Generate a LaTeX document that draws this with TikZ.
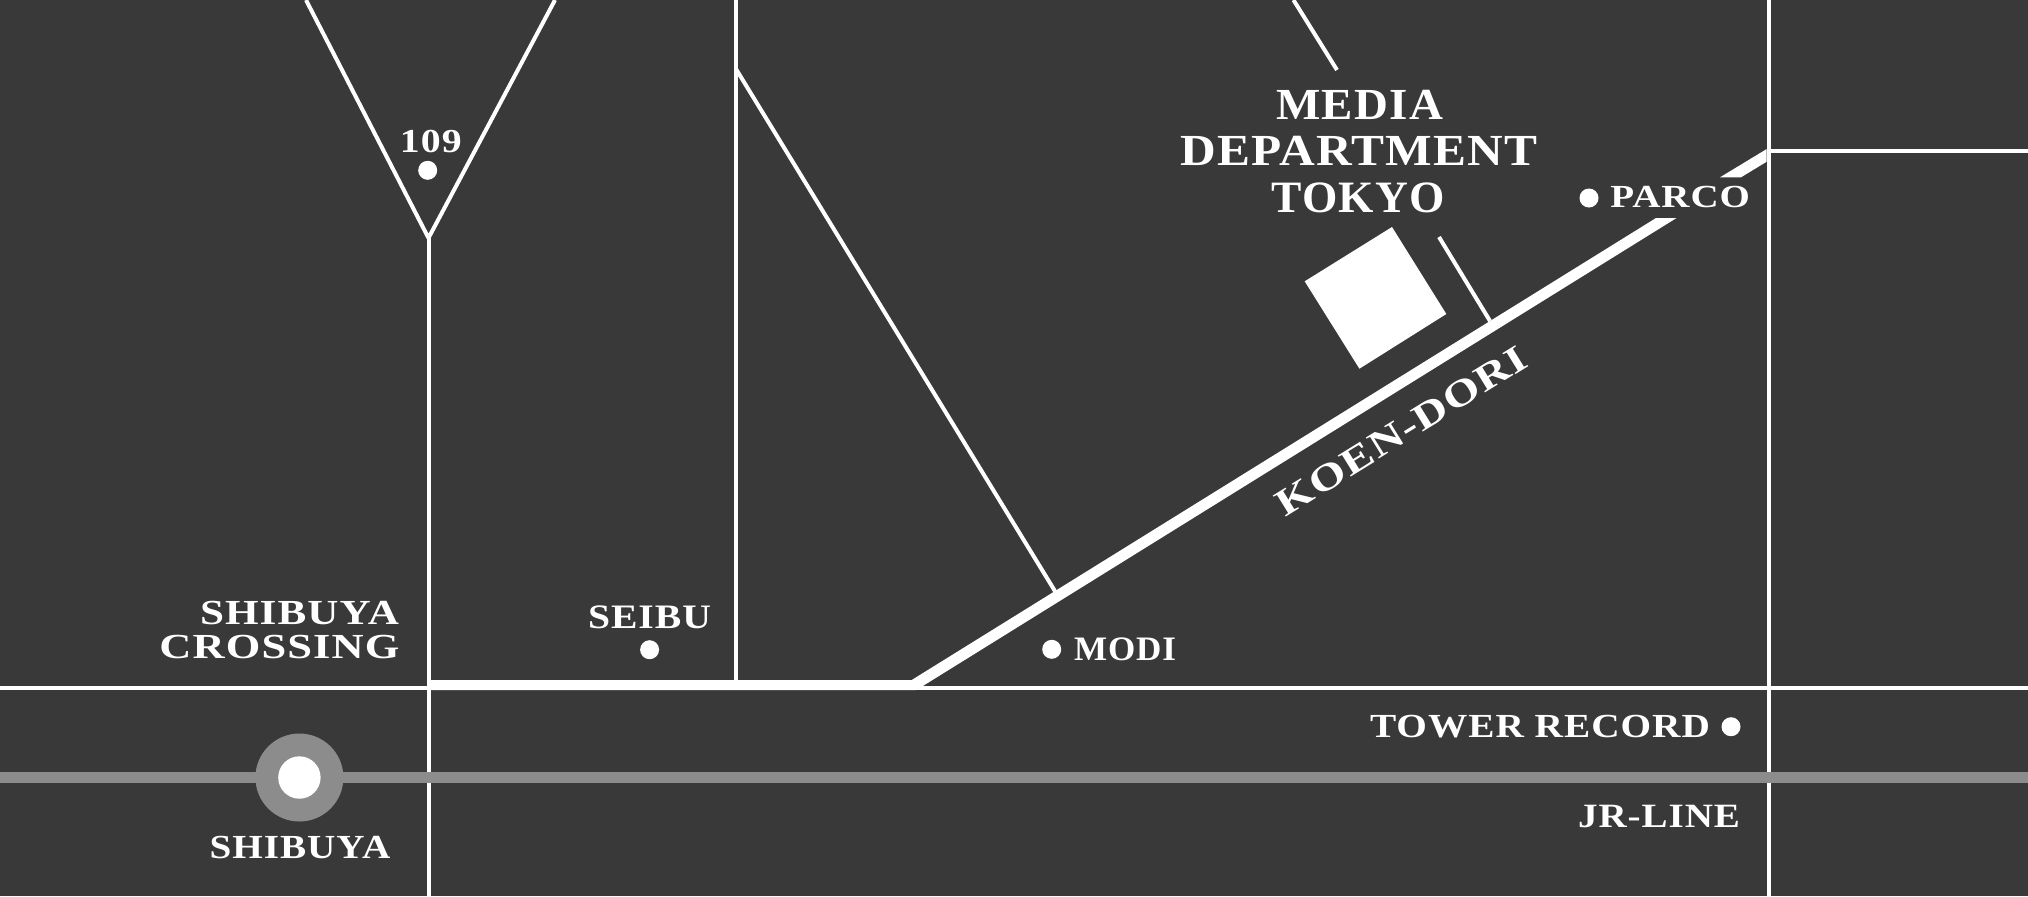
\documentclass[tikz,border=0pt]{standalone}
\usepackage{fontspec}
\usepackage{graphicx}
\setmainfont{Liberation Serif}[LetterSpace=2.5,BoldFont={Liberation Serif Bold}]
\newlength{\unitpx}
\setlength{\unitpx}{0.5pt}
\newcommand{\fitlabel}[3]{\resizebox{#1\unitpx}{#2\unitpx}{\bfseries #3}}
\definecolor{mapbg}{HTML}{393939}
\definecolor{railgray}{HTML}{8C8C8C}
\tikzset{
  road/.style={draw=white,line width=2pt},
  roadfill/.style={fill=white,draw=none},
  spot/.style={circle,fill=white,draw=none,minimum size=9.5pt,inner sep=0pt},
  maplabel/.style={text=white,inner sep=0pt,outer sep=0pt,anchor=center}
}
\begin{document}
\begin{tikzpicture}[x=0.5pt,y=-0.5pt]
\useasboundingbox (0,0) rectangle (2028,896);
\fill[mapbg] (0,0) rectangle (2028,896);
% road end points
\coordinate (vl) at (306,0);
\coordinate (vr) at (555,0);
\coordinate (apex) at (428.5,238);
\coordinate (xbot) at (428.5,896);
\coordinate (w) at (0,688);
\coordinate (e) at (2028,688);
\coordinate (v2t) at (736,0);
\coordinate (v2b) at (736,688);
\coordinate (v3t) at (1768.7,0);
\coordinate (v3b) at (1768.7,896);
\coordinate (ne) at (2028,150.7);
\coordinate (ne0) at (1768.7,150.7);
\coordinate (da) at (736,69);
\coordinate (db) at (1055.5,592);
\coordinate (ta) at (1293.5,0);
\coordinate (tb) at (1337,70);
\coordinate (sa) at (1439,237);
\coordinate (sb) at (1490,321);
\draw[road] (vl) -- (apex) -- (vr);
\draw[road] (apex) -- (xbot);
\draw[road] (w) -- (e);
\draw[road] (v2t) -- (v2b);
\draw[road] (v3t) -- (v3b);
\draw[road] (ne0) -- (ne);
\draw[road] (da) -- (db);
\draw[road] (ta) -- (tb);
\draw[road] (sa) -- (sb);
% Koen-dori
\fill[roadfill] (430,680) -- (911.7,680) -- (1656,218) -- (1676.5,218) -- (921.7,686.7) -- (916,690) -- (430,690) -- cycle;
\fill[roadfill] (1720,177.3) -- (1766.7,149) -- (1766.7,161.7) -- (1741,177.3) -- cycle;
% building
\fill[roadfill] (1392,227) -- (1446.3,314) -- (1359.4,368.7) -- (1304.7,281.3) -- cycle;
% rail
\draw[railgray,line width=5.7pt] (0,777.7) -- (2028,777.7);
\fill[railgray] (299.4,777.5) circle (44);
\fill[white] (299.4,777.5) circle (21.2);
% spots
\node[spot] (d109) at (427.7,170.3) {};
\node[spot] (dseibu) at (649.6,649.7) {};
\node[spot] (dmodi) at (1051.7,649.3) {};
\node[spot] (dparco) at (1589,198) {};
\node[spot] (dtower) at (1731,726.7) {};
% labels
\node[maplabel] (l1) at (1359.7,104.6) {\fitlabel{166.5}{29.3}{MEDIA}};
\node[maplabel] (l2) at (1359.2,151.3) {\fitlabel{357}{29.3}{DEPARTMENT}};
\node[maplabel] (l3) at (1358.2,197.8) {\fitlabel{173}{29.7}{TOKYO}};
\node[maplabel] (l4) at (1680.2,197.3) {\fitlabel{139.6}{21.3}{PARCO}};
\node[maplabel] (l5) at (299.5,613.3) {\fitlabel{199}{23.3}{SHIBUYA}};
\node[maplabel] (l6) at (279.4,647.3) {\fitlabel{240}{23.3}{CROSSING}};
\node[maplabel] (l7) at (649.5,617.3) {\fitlabel{123}{22.7}{SEIBU}};
\node[maplabel] (l8) at (300,847.2) {\fitlabel{180.8}{22.3}{SHIBUYA}};
\node[maplabel] (l9) at (1125,649.3) {\fitlabel{102}{22.7}{MODI}};
\node[maplabel] (l10) at (1540,726.2) {\fitlabel{340}{22.3}{TOWER RECORD}};
\node[maplabel] (l11) at (1659,816.2) {\fitlabel{162}{22.3}{JR-LINE}};
\node[maplabel] (l12) at (430.8,141.2) {\fitlabel{61.7}{22.3}{109}};
\node[maplabel,rotate=31.76] (l13) at (1401.7,430.8) {\fitlabel{288}{25}{KOEN-DORI}};
\end{tikzpicture}
\end{document}
